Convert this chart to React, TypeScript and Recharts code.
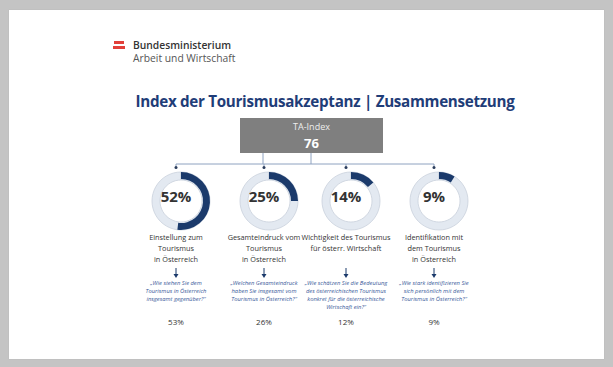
import React from "react";
import { Pie, PieChart, Cell } from "recharts";

const indexLabel = "TA-Index";
const indexValue = 76;
const shares = [52, 25, 14, 9];
const weights = ["53%", "26%", "12%", "9%"];
const dimensions = [
  ["Einstellung zum", "Tourismus", "in Österreich"],
  ["Gesamteindruck vom", "Tourismus", "in Österreich"],
  ["Wichtigkeit des Tourismus", "für österr. Wirtschaft"],
  ["Identifikation mit", "dem Tourismus", "in Österreich"],
];
const questions = [
  ["„Wie stehen Sie dem", "Tourismus in Österreich", "insgesamt gegenüber?“"],
  ["„Welchen Gesamteindruck", "haben Sie insgesamt vom", "Tourismus in Österreich?“"],
  ["„Wie schätzen Sie die Bedeutung", "des österreichischen Tourismus", "konkret für die österreichische", "Wirtschaft ein?“"],
  ["„Wie stark identifizieren Sie", "sich persönlich mit dem", "Tourismus in Österreich?“"],
];

const W = 613;
const H = 367;
const cxs = [176, 264, 346, 434];
const CY = 196;
const NAVY = "#1b3a6b";
const LINE = "#8ea2c0";
const FONT = "'Open Sans', 'Liberation Sans', sans-serif";

const abs = (s: React.CSSProperties): React.CSSProperties => ({ position: "absolute", ...s });

export default function App() {
  return (
    <div style={abs({ left: 0, top: 0, width: W, height: H, background: "#c4c4c4", fontFamily: FONT, overflow: "hidden" })}>
      <div style={abs({ left: 9, top: 10, width: 595, height: 349, background: "#ffffff", boxShadow: "0 0 1px #aaa" })} />

      {/* logo */}
      <div style={abs({ left: 114, top: 41, width: 10, height: 3, background: "#e2403a" })} />
      <div style={abs({ left: 113, top: 46, width: 12, height: 3, background: "#e2403a" })} />
      <div style={abs({ left: 133, top: 39, fontSize: 10.3, fontWeight: 600, color: "#333", lineHeight: "13px" })}>Bundesministerium</div>
      <div style={abs({ left: 133, top: 52, fontSize: 10.3, color: "#555", lineHeight: "13px" })}>Arbeit und Wirtschaft</div>

      <div style={abs({ left: 25, width: 600, top: 91, textAlign: "center", fontSize: 15.2, fontWeight: 700, color: "#1f3d78", lineHeight: "20px", letterSpacing: -0.3 })}>
        Index der Tourismusakzeptanz | Zusammensetzung
      </div>

      {/* index box */}
      <div style={abs({ left: 240, top: 118, width: 143, height: 35, background: "#7f7f7f", color: "#fff", textAlign: "center" })}>
        <div style={{ fontSize: 9, lineHeight: "11px", marginTop: 3, color: "#eee" }}>{indexLabel}</div>
        <div style={{ fontSize: 13, fontWeight: 700, lineHeight: "16px", marginTop: 3 }}>{indexValue}</div>
      </div>

      <svg width={W} height={H} style={abs({ left: 0, top: 0 })}>
        <line x1={263} y1={153} x2={263} y2={164} stroke={LINE} />
        <line x1={311} y1={153} x2={311} y2={164} stroke={LINE} />
        <line x1={cxs[0]} y1={164} x2={cxs[3]} y2={164} stroke={LINE} />
        {cxs.map((x) => (
          <g key={x}>
            <line x1={x} y1={164} x2={x} y2={167} stroke={LINE} />
            <circle cx={x} cy={167.5} r={1.5} fill="#2d3f5e" />
            <line x1={x} y1={268} x2={x} y2={275} stroke={NAVY} strokeWidth={1} />
            <path d={`M${x - 2.5},274 L${x + 2.5},274 L${x},278 Z`} fill={NAVY} />
          </g>
        ))}
      </svg>

      <div style={abs({ left: 0, top: 0 })}>
        <PieChart width={W} height={H}>
          {shares.map((v, i) => (
            <Pie
              key={"bg" + i}
              data={[{ v: 100 }]}
              dataKey="v"
              cx={cxs[i]}
              cy={CY}
              innerRadius={21}
              outerRadius={29}
              startAngle={90}
              endAngle={-270}
              fill="#e3e9f1"
              stroke="#c9d1dc"
              strokeWidth={0.8}
              isAnimationActive={false}
            />
          ))}
          {shares.map((v, i) => (
            <Pie
              key={"fg" + i}
              data={[{ v }, { v: 100 - v }]}
              dataKey="v"
              cx={cxs[i]}
              cy={CY}
              innerRadius={22}
              outerRadius={29}
              startAngle={90}
              endAngle={-270}
              stroke="none"
              isAnimationActive={false}
            >
              <Cell fill={NAVY} />
              <Cell fill="transparent" />
            </Pie>
          ))}
        </PieChart>
      </div>

      {shares.map((v, i) => (
        <div key={"t" + i} style={abs({ left: cxs[i] - 40, width: 80, top: CY - 10, textAlign: "center", fontSize: 15, fontWeight: 700, color: "#333", lineHeight: "20px" })}>
          {v}%
        </div>
      ))}

      {dimensions.map((lines, i) => (
        <div key={"d" + i} style={abs({ left: cxs[i] - 45, width: 90, top: 232, textAlign: "center", fontSize: 7.3, color: "#333", lineHeight: "11px", whiteSpace: "nowrap" })}>
          {lines.map((l) => <div key={l}>{l}</div>)}
        </div>
      ))}

      {questions.map((lines, i) => (
        <div key={"q" + i} style={abs({ left: cxs[i] - 45, width: 90, top: 279, textAlign: "center", fontSize: 5.8, fontStyle: "italic", color: "#3a5a9a", lineHeight: "8px", whiteSpace: "nowrap" })}>
          {lines.map((l) => <div key={l}>{l}</div>)}
        </div>
      ))}

      {weights.map((w, i) => (
        <div key={"w" + i} style={abs({ left: cxs[i] - 30, width: 60, top: 316, textAlign: "center", fontSize: 8, color: "#333", lineHeight: "11px" })}>
          {w}
        </div>
      ))}
    </div>
  );
}
